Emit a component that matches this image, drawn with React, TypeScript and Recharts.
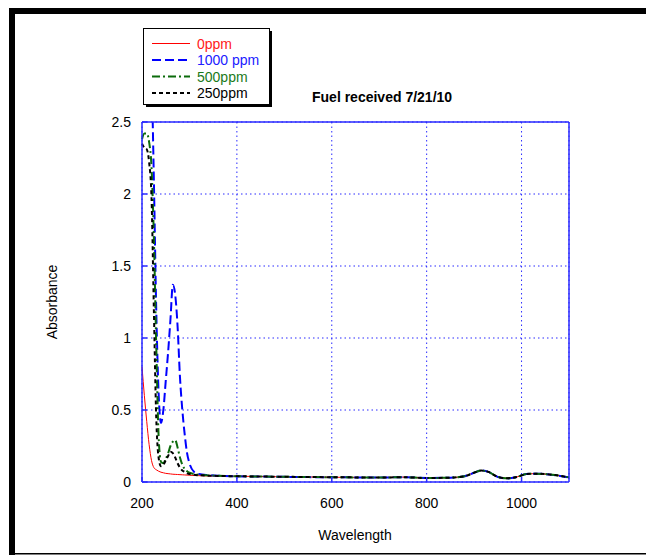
import React from "react";
import { LineChart, Line, XAxis, YAxis, CartesianGrid } from "recharts";

const wavelength = [
  200, 205, 210, 215, 220, 225, 230, 235, 240, 245, 250, 255, 260, 265, 270, 275, 280, 285, 290, 295, 300,
  310, 320, 340, 360, 400, 450, 500, 550, 600, 650, 700, 750, 800, 850, 880, 900, 915, 930, 950, 970, 990,
  1010, 1030, 1050, 1070, 1100,
];

const ppm0 = [
  0.8, 0.6, 0.42, 0.26, 0.15, 0.1, 0.085, 0.075, 0.068, 0.064, 0.06, 0.058, 0.056, 0.054, 0.053, 0.052, 0.051,
  0.05, 0.049, 0.048, 0.047, 0.045, 0.044, 0.042, 0.041, 0.04, 0.038, 0.036, 0.035, 0.033, 0.032, 0.031, 0.034,
  0.028, 0.03, 0.04, 0.066, 0.08, 0.07, 0.036, 0.026, 0.035, 0.055, 0.058, 0.055, 0.048, 0.032,
];

const ppm1000 = [
  3.2, 3.3, 3.3, 3.1, 2.85, 2.1, 1.2, 0.62, 0.41, 0.5, 0.7, 0.9, 1.13, 1.37, 1.3, 1.08, 0.73, 0.5, 0.33, 0.2,
  0.13, 0.07, 0.055, 0.048, 0.044, 0.04, 0.038, 0.036, 0.034, 0.033, 0.032, 0.031, 0.033, 0.028, 0.03, 0.04,
  0.064, 0.08, 0.07, 0.035, 0.025, 0.035, 0.055, 0.058, 0.055, 0.047, 0.031,
];

const ppm500 = [
  2.38, 2.42, 2.42, 2.36, 2.19, 1.7, 0.95, 0.32, 0.14, 0.13, 0.16, 0.2, 0.25, 0.28, 0.29, 0.24, 0.17, 0.12, 0.09,
  0.075, 0.065, 0.055, 0.05, 0.046, 0.043, 0.04, 0.038, 0.036, 0.035, 0.033, 0.032, 0.031, 0.033, 0.028, 0.03,
  0.04, 0.065, 0.08, 0.07, 0.036, 0.026, 0.035, 0.055, 0.058, 0.055, 0.048, 0.032,
];

const ppm250 = [
  2.35, 2.32, 2.31, 2.22, 1.98, 1.2, 0.45, 0.17, 0.11, 0.12, 0.15, 0.18, 0.21, 0.2, 0.17, 0.13, 0.1, 0.08, 0.07,
  0.06, 0.055, 0.05, 0.047, 0.044, 0.042, 0.04, 0.038, 0.036, 0.035, 0.033, 0.032, 0.031, 0.033, 0.028, 0.03,
  0.04, 0.065, 0.08, 0.07, 0.036, 0.026, 0.035, 0.055, 0.058, 0.055, 0.048, 0.032,
];

const xTicks = [200, 400, 600, 800, 1000];
const yTicks = [0, 0.5, 1, 1.5, 2, 2.5];

const series = [
  { key: "p0", name: "0ppm", color: "#ff0000", text: "#ff2020", width: 1, dash: undefined },
  { key: "p1000", name: "1000 ppm", color: "#0000ff", text: "#2020ff", width: 2, dash: "9 4" },
  { key: "p500", name: "500ppm", color: "#0b6b0b", text: "#1a7a1a", width: 2, dash: "8 3 2 3" },
  { key: "p250", name: "250ppm", color: "#000000", text: "#000000", width: 2, dash: "4 3" },
];

const rows = wavelength.map((w, i) => ({
  w,
  p0: ppm0[i],
  p1000: ppm1000[i],
  p500: ppm500[i],
  p250: ppm250[i],
}));

const FONT = "'Liberation Sans', Arial, sans-serif";
const AXIS = "#2a2aff";

const App = () => {
  return (
    <div style={{ position: "fixed", left: 0, top: 0, width: 646, height: 555, overflow: "hidden", background: "#fff" }}>
      <div style={{ position: "absolute", left: 0, top: 0 }}>
        <LineChart width={646} height={555} data={rows} margin={{ top: 121, right: 76, left: 82, bottom: 33 }}>
          <CartesianGrid stroke={AXIS} strokeDasharray="1.5 3" />
          <XAxis
            dataKey="w"
            type="number"
            domain={[200, 1100]}
            ticks={xTicks}
            height={40}
            stroke={AXIS}
            strokeWidth={1.5}
            tickSize={-5}
            tickMargin={21}
            tick={{ fill: "#000", fontSize: 14, fontFamily: FONT }}
          />
          <XAxis
            xAxisId="top"
            orientation="top"
            dataKey="w"
            type="number"
            domain={[200, 1100]}
            ticks={xTicks}
            height={1}
            stroke={AXIS}
            strokeWidth={1.5}
            tickSize={-5}
            tick={false}
          />
          <YAxis
            type="number"
            domain={[0, 2.5]}
            ticks={yTicks}
            allowDataOverflow
            width={60}
            stroke={AXIS}
            strokeWidth={1.5}
            tickSize={-5}
            tickMargin={16}
            tick={{ fill: "#000", fontSize: 14, fontFamily: FONT }}
          />
          <YAxis
            yAxisId="right"
            orientation="right"
            type="number"
            domain={[0, 2.5]}
            ticks={yTicks}
            width={1}
            stroke={AXIS}
            strokeWidth={1.5}
            tickSize={-5}
            tick={false}
          />
          {series.map((s) => (
            <Line
              key={s.key}
              type="monotone"
              dataKey={s.key}
              stroke={s.color}
              strokeWidth={s.width}
              strokeDasharray={s.dash}
              dot={false}
              isAnimationActive={false}
            />
          ))}
        </LineChart>
      </div>
      <svg width={646} height={555} style={{ position: "absolute", left: 0, top: 0, pointerEvents: "none" }}>
        {/* frame */}
        <rect x={9} y={8} width={640} height={6} fill="#000" />
        <rect x={9} y={8} width={6} height={547} fill="#000" />
        <rect x={9} y={553} width={640} height={1.5} fill="#000" />

        {/* legend */}
        <rect x={146} y={31} width={126} height={76} fill="#000" />
        <rect x={143.5} y={28.5} width={126} height={76} fill="#fff" stroke="#000" strokeWidth={1} />
        {series.map((s, i) => {
          const y = 43.5 + i * 16.5;
          return (
            <g key={s.key}>
              <line x1={152} x2={190} y1={y} y2={y} stroke={s.color} strokeWidth={s.width} strokeDasharray={s.dash} />
              <text x={197} y={y} dominantBaseline="central" fontSize={14} fontFamily={FONT} fill={s.text}>
                {s.name}
              </text>
            </g>
          );
        })}

        {/* title and axis labels */}
        <text x={312} y={97} dominantBaseline="central" fontSize={14} fontWeight="bold" fontFamily={FONT} fill="#000">
          Fuel received 7/21/10
        </text>
        <text x={355} y={535} textAnchor="middle" dominantBaseline="central" fontSize={14} fontFamily={FONT} fill="#000">
          Wavelength
        </text>
        <text
          x={52}
          y={302}
          textAnchor="middle"
          dominantBaseline="central"
          fontSize={14}
          fontFamily={FONT}
          fill="#000"
          transform="rotate(-90 52 302)"
        >
          Absorbance
        </text>
      </svg>
    </div>
  );
};

export default App;
